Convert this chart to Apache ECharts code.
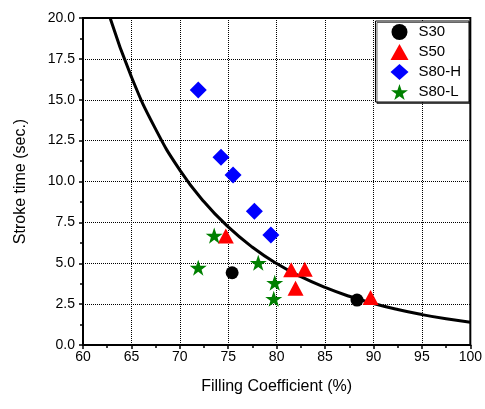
<!DOCTYPE html>
<html><head><meta charset="utf-8">
<script src="https://cdn.jsdelivr.net/npm/echarts@6/dist/echarts.min.js"></script>
<style>html,body{margin:0;padding:0;background:#fff}#c{width:485px;height:409px}</style>
</head><body><div id="c"></div>
<script>
const xTicks = [60, 65, 70, 75, 80, 85, 90, 95, 100];
const yTicks = [0, 2.5, 5, 7.5, 10, 12.5, 15, 17.5, 20];
const seriesNames = ['S30', 'S50', 'S80-H', 'S80-L'];
const s30 = [[75.4, 4.42], [88.3, 2.75]];
const s50 = [[74.75, 6.67], [81.5, 4.6], [82.9, 4.63], [81.95, 3.47], [89.7, 2.9]];
const s80h = [[71.9, 15.6], [74.25, 11.48], [75.5, 10.4], [77.7, 8.18], [79.4, 6.73]];
const s80l = [[73.55, 6.69], [71.9, 4.73], [78.1, 5.03], [79.8, 3.81], [79.7, 2.83]];
const fitX = [62.8, 65, 67.5, 70, 72.5, 75, 77.5, 80, 82.5, 85, 87.5, 90, 92.5, 95, 97.5, 100];
const fitY = [20.0, 16.4, 13.2, 10.7, 8.76, 7.22, 5.98, 4.98, 4.18, 3.52, 2.98, 2.54, 2.17, 1.86, 1.60, 1.39];

const FONT = 'Liberation Sans';
const star = 'path://M50,0 L61.8,35.1 L98.1,35.1 L68.8,56.8 L79.4,90.9 L50,69.1 L20.6,90.9 L31.2,56.8 L1.9,35.1 L38.2,35.1 Z';
const chart = echarts.init(document.getElementById('c'));
chart.setOption({
  animation: false,
  backgroundColor: '#fff',
  grid: { left: 83, right: 13, top: 18, bottom: 64, show: true, borderColor: '#000', borderWidth: 2, backgroundColor: 'transparent' },
  legend: {
    data: seriesNames,
    orient: 'vertical', right: 16, top: 21,
    itemWidth: 18, itemHeight: 16, itemGap: 4,
    padding: [3, 8, 2, 15],
    borderColor: '#000', borderWidth: 1,
    shadowColor: 'rgba(0,0,0,0.6)', shadowOffsetX: 1.5, shadowOffsetY: 1.5, shadowBlur: 0,
    backgroundColor: '#fff',
    textStyle: { fontFamily: FONT, fontSize: 15, color: '#000', padding: [0, 0, 0, 5] }
  },
  xAxis: {
    type: 'value', min: xTicks[0], max: xTicks[xTicks.length - 1], interval: 5,
    name: 'Filling Coefficient (%)', nameLocation: 'middle', nameGap: 34,
    nameTextStyle: { fontFamily: FONT, fontSize: 16, color: '#000' },
    axisLine: { show: true, onZero: false, lineStyle: { color: '#000', width: 2 } },
    axisTick: { show: true, inside: false, length: 4, lineStyle: { color: '#000', width: 1.5 } },
    minorTick: { show: true, splitNumber: 2, length: 3, lineStyle: { color: '#000', width: 1.5 } },
    axisLabel: { fontFamily: FONT, fontSize: 14, color: '#000', margin: 5 },
    splitLine: { show: true, lineStyle: { type: 'dotted', color: '#000', width: 1 } }
  },
  yAxis: {
    type: 'value', min: yTicks[0], max: yTicks[yTicks.length - 1], interval: 2.5,
    name: 'Stroke time (sec.)', nameLocation: 'middle', nameGap: 54,
    nameTextStyle: { fontFamily: FONT, fontSize: 16, color: '#000' },
    axisLine: { show: true, onZero: false, lineStyle: { color: '#000', width: 2 } },
    axisTick: { show: true, inside: false, length: 4, lineStyle: { color: '#000', width: 1.5 } },
    minorTick: { show: true, splitNumber: 2, length: 3, lineStyle: { color: '#000', width: 1.5 } },
    axisLabel: { fontFamily: FONT, fontSize: 14, color: '#000', margin: 8, formatter: v => v.toFixed(1) },
    splitLine: { show: true, lineStyle: { type: 'dotted', color: '#000', width: 1 } }
  },
  series: [
    { name: 'fit', type: 'line', data: fitX.map((x, i) => [x, fitY[i]]), smooth: true, showSymbol: false, symbol: 'none',
      lineStyle: { color: '#000', width: 3 }, z: 1, clip: true },
    { name: 'S30', type: 'scatter', data: s30, symbol: 'circle', symbolSize: 13, itemStyle: { color: '#000', opacity: 1 }, z: 2 },
    { name: 'S50', type: 'scatter', data: s50, symbol: 'triangle', symbolSize: [16, 15], itemStyle: { color: '#ff0000', opacity: 1 }, z: 3 },
    { name: 'S80-H', type: 'scatter', data: s80h, symbol: 'diamond', symbolSize: 17, itemStyle: { color: '#0000ff', opacity: 1 }, z: 4 },
    { name: 'S80-L', type: 'scatter', data: s80l, symbol: star, symbolKeepAspect: true, symbolSize: 17, itemStyle: { color: '#008000', opacity: 1 }, z: 5 }
  ]
});
</script></body></html>
